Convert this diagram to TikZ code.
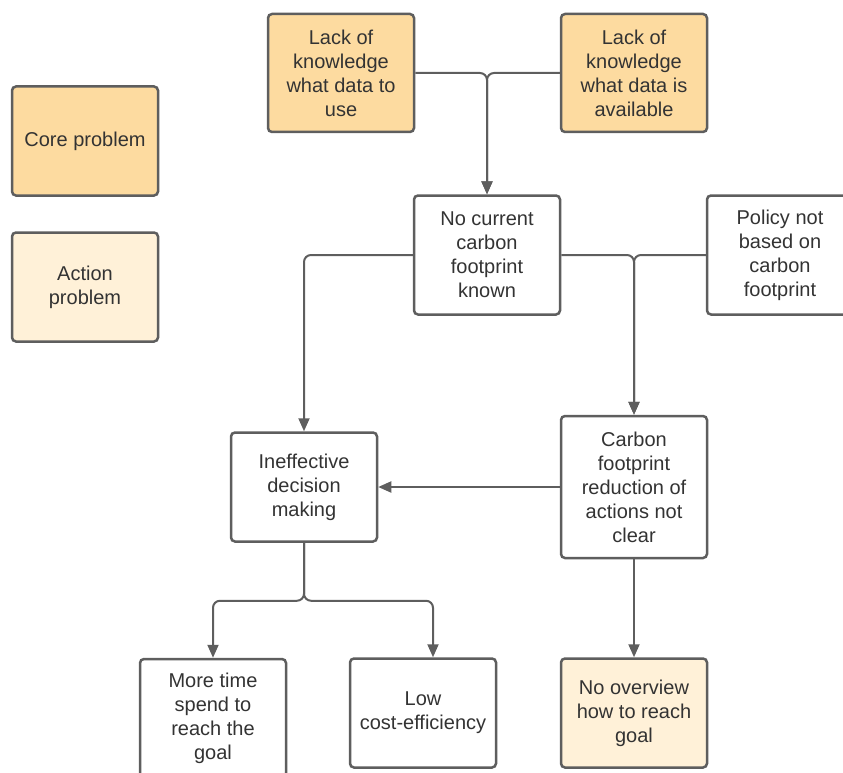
\documentclass[tikz,border=0pt]{standalone}
\usepackage{fontspec}
\setmainfont{Liberation Sans}
\usetikzlibrary{arrows.meta}
\definecolor{cor}{RGB}{253, 219, 160}
\definecolor{act}{RGB}{255, 241, 216}
\definecolor{lin}{RGB}{94, 94, 94}
\definecolor{txt}{RGB}{51, 51, 51}
\tikzset{
  box/.style={draw=lin, line width=2.5pt, rounded corners=4pt, fill=white,
    minimum width=146pt, minimum height=109pt, align=center, text=txt,
    font=\fontsize{20pt}{24pt}\selectfont, inner sep=0pt},
  conn/.style={draw=lin, line width=2pt, rounded corners=7pt,
    -{Triangle[length=13pt,width=11pt]}}
}

\begin{document}
\begin{tikzpicture}[x=1pt, y=-1pt]
      \clip (0, 0) rectangle (843, 773);
      % legend
      \node[box, fill=cor] (core) at (85, 141) {Core problem};
      \node[box, fill=act] (action) at (85, 287) {Action\\problem};
      % causes
      \node[box, fill=cor, minimum height=118pt] (lackuse) at (341, 73) {Lack of\\knowledge\\what data to\\use};
      \node[box, fill=cor, minimum height=118pt] (lackavail) at (634, 73) {Lack of\\knowledge\\what data is\\available};
      \node[box, minimum height=119pt] (nocurrent) at (487, 255) {No current\\carbon\\footprint\\known};
      \node[box, minimum height=119pt] (policy) at (780, 255) {Policy not\\based on\\carbon\\footprint};
      \node[box] (ineffective) at (304, 487) {Ineffective\\decision\\making};
      \node[box, minimum height=142pt] (reduction) at (634, 487) {Carbon\\footprint\\reduction of\\actions not\\clear};
      % effects
      \node[box, minimum height=118pt] (moretime) at (213, 718) {More time\\spend to\\reach the\\goal};
      \node[box] (lowcost) at (423, 713) {Low\\cost-efficiency};
      \node[box, fill=act] (overview) at (634, 713) {No overview\\how to reach\\goal};
      % connectors
      \draw[conn] (lackuse.east) -| (nocurrent.north);
      \draw[conn] (lackavail.west) -| (nocurrent.north);
      \draw[conn] (nocurrent.west) -| (ineffective.north);
      \draw[conn] (nocurrent.east) -| (reduction.north);
      \draw[conn] (policy.west) -| (reduction.north);
      \draw[conn] (reduction.west) -- (ineffective.east);
      \draw[conn] (ineffective.south) -- ++(0, 58) -| (moretime.north);
      \draw[conn] (ineffective.south) -- ++(0, 58) -| ([xshift=10pt]lowcost.north);
      \draw[conn] (reduction.south) -- (overview.north);
    \end{tikzpicture}
\end{document}
